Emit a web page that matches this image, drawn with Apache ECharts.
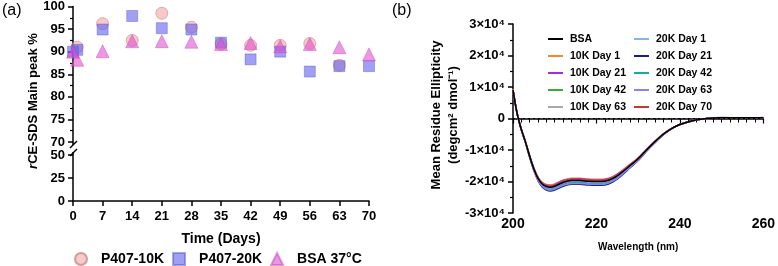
<!DOCTYPE html>
<html>
<head>
<meta charset="utf-8">
<script src="https://cdn.jsdelivr.net/npm/echarts@6/dist/echarts.min.js"></script>
<style>
  html, body { margin: 0; padding: 0; background: #fff; }
  #chart { width: 778px; height: 266px; }
</style>
</head>
<body>
<div id="chart"></div>
<script>
// panel (a): rCE-SDS main peak over time
var days10K = [1, 7, 14, 21, 28, 35, 42, 49, 56, 63];
var peak10K = [91.0, 96.2, 92.5, 98.5, 95.4, 91.7, 91.4, 91.4, 91.8, 87.0];
var days20K = [0, 1, 7, 14, 21, 28, 35, 42, 49, 56, 63, 70];
var peak20K = [90.0, 90.4, 94.9, 97.9, 95.2, 94.9, 92.0, 88.3, 90.0, 85.6, 86.8, 86.8];
var daysBSA = [0, 1, 7, 14, 21, 28, 35, 42, 49, 56, 63, 70];
var peakBSA = [90.0, 88.2, 90.1, 92.3, 92.3, 92.2, 91.7, 91.9, 91.2, 91.7, 91.0, 89.4];

// panel (b): CD spectra
var wavelengths = [200, 201, 202, 203, 204, 205, 206, 207, 208, 209, 210, 212, 214, 216, 218, 220, 222, 224, 226, 228, 230, 232, 234, 236, 238, 240, 243, 246, 250, 255, 260];
var cdBSA   = [9000, 1500, -3500, -7500, -12000, -16000, -19000, -20800, -21600, -21800, -21500, -20300, -19700, -19700, -19900, -20000, -19900, -19000, -17200, -15000, -12800, -10000, -7400, -5000, -3200, -1900, -700, -100, 200, 250, 250];
var cd10K1  = [9300, 1500, -3430, -7360, -11790, -15685, -18580, -20240, -20935, -21100, -20800, -19600, -19000, -19000, -19200, -19300, -19200, -18370, -16640, -14580, -12485, -9755, -7225, -4895, -3165, -1900, -700, -100, 200, 250, 250];
var cd10K21 = [9000, 1500, -3450, -7400, -11850, -15775, -18700, -20400, -21125, -21300, -21000, -19700, -19200, -19100, -19400, -19600, -19400, -18550, -16800, -14700, -12575, -9825, -7275, -4925, -3175, -1900, -700, -50, 300, 200, 300];
var cd10K42 = [9000, 1500, -3550, -7600, -12150, -16225, -19300, -21200, -22075, -22300, -22000, -20800, -20200, -20200, -20400, -20500, -20400, -19450, -17600, -15300, -13025, -10175, -7525, -5075, -3225, -1900, -700, -100, 200, 250, 250];
var cd10K63 = [9000, 1500, -3480, -7460, -11940, -15910, -18880, -20640, -21410, -21600, -21300, -20100, -19500, -19500, -19700, -19800, -19700, -18820, -17040, -14880, -12710, -9930, -7350, -4970, -3190, -1900, -700, -100, 200, 250, 250];
var cd20K1  = [9000, 1500, -3530, -7560, -12090, -16135, -19180, -21040, -21885, -22100, -21800, -20600, -20000, -20000, -20200, -20300, -20200, -19270, -17440, -15180, -12935, -10105, -7445, -5045, -3215, -1900, -700, -100, 200, 250, 250];
var cd20K21 = [9000, 1500, -3620, -7740, -12360, -16540, -19720, -21760, -22740, -23000, -22700, -21500, -20900, -20900, -21100, -21200, -21100, -20080, -18160, -15720, -13340, -10420, -7700, -5180, -3260, -1900, -700, -100, 200, 250, 250];
var cd20K42 = [9000, 1500, -3570, -7640, -12210, -16315, -19420, -21360, -22265, -22500, -22200, -21000, -20400, -20400, -20600, -20700, -20600, -19630, -17760, -15420, -13115, -10245, -7575, -5105, -3235, -1900, -700, -100, 200, 250, 250];
var cd20K63 = [9000, 1500, -3590, -7680, -12270, -16405, -19540, -21520, -22455, -22700, -22400, -21200, -20600, -20600, -20800, -20900, -20800, -19810, -17920, -15540, -13205, -10315, -7535, -5135, -3245, -1900, -700, -100, 200, 250, 250];
var cd20K70 = [9000, 1500, -3470, -7440, -11910, -15865, -18820, -20560, -21315, -21500, -21200, -20000, -19400, -19400, -19600, -19700, -19600, -18730, -16960, -14820, -12665, -9925, -7355, -4955, -3185, -1900, -700, -100, 200, 250, 250];

var cdNames = ['BSA', '10K Day 1', '10K Day 21', '10K Day 42', '10K Day 63', '20K Day 1', '20K Day 21', '20K Day 42', '20K Day 63', '20K Day 70'];
var cdColors = ['#000000', '#f5882a', '#a42be8', '#3daa3d', '#a8a8a8', '#7ab8f0', '#1c1c8e', '#1ea5a5', '#8b84e6', '#c23b3b'];
var cdValues = [cdBSA, cd10K1, cd10K21, cd10K42, cd10K63, cd20K1, cd20K21, cd20K42, cd20K63, cd20K70];

var FONT = '"Liberation Sans", Arial, sans-serif';

function pairs(xs, ys) {
  return xs.map(function (x, i) { return [x, ys[i]]; });
}

var axisLine = { show: true, lineStyle: { color: '#000', width: 1.5 } };
var tick = { show: true, inside: false, length: 5, lineStyle: { color: '#000', width: 1.5 } };
var boldLabel = function (size, margin) {
  return { color: '#000', fontFamily: FONT, fontWeight: 'bold', fontSize: size, margin: margin };
};

var scatterSeries = [
  { name: 'P407-10K', symbol: 'circle', size: 12, color: 'rgba(244,170,170,0.8)', border: '#c98a8a', xs: days10K, ys: peak10K },
  { name: 'P407-20K', symbol: 'rect', size: 11, color: 'rgba(95,95,240,0.75)', border: 'rgba(80,80,200,0.6)', xs: days20K, ys: peak20K },
  { name: 'BSA 37°C', symbol: 'triangle', size: 13, color: 'rgba(225,80,210,0.75)', border: 'rgba(190,60,180,0.6)', xs: daysBSA, ys: peakBSA }
].map(function (s) {
  return {
    name: s.name,
    type: 'scatter',
    xAxisIndex: 0,
    yAxisIndex: 0,
    symbol: s.symbol,
    symbolSize: s.size,
    clip: false,
    itemStyle: { color: s.color, borderColor: s.border, borderWidth: 0.8 },
    data: pairs(s.xs, s.ys)
  };
});

var lineSeries = cdNames.map(function (name, i) {
  var series = {
    name: name,
    type: 'line',
    xAxisIndex: 2,
    yAxisIndex: 2,
    showSymbol: false,
    smooth: 0.3,
    z: name === 'BSA' ? 4 : 3,
    color: cdColors[i],
    lineStyle: { width: 1.5, color: cdColors[i] },
    data: pairs(wavelengths, cdValues[i])
  };
  if (name === 'BSA') {
    series.markLine = {
      silent: true,
      symbol: 'none',
      label: { show: false },
      lineStyle: { color: '#000', type: [2, 3], width: 1 },
      data: [{ yAxis: 0 }]
    };
  }
  return series;
});

var cdLegendText = { color: '#000', fontFamily: FONT, fontWeight: 'bold', fontSize: 10.5, lineHeight: 12, padding: [0, 0, 0, 2] };

var chart = echarts.init(document.getElementById('chart'), null, { renderer: 'canvas' });
chart.setOption({
  backgroundColor: '#fff',
  animation: false,
  textStyle: { fontFamily: FONT },
  grid: [
    { left: 73, top: 5, width: 296, height: 137 },
    { left: 73, top: 155, width: 296, height: 46 },
    { left: 513, top: 24, width: 254, height: 189 }
  ],
  xAxis: [
    { gridIndex: 0, type: 'value', min: 0, max: 70, show: false },
    {
      gridIndex: 1, type: 'value', min: 0, max: 70, interval: 7,
      axisLine: axisLine, axisTick: tick, splitLine: { show: false },
      axisLabel: boldLabel(13, 9),
      name: 'Time (Days)', nameLocation: 'middle', nameGap: 31,
      nameTextStyle: { color: '#000', fontFamily: FONT, fontWeight: 'bold', fontSize: 14 }
    },
    {
      gridIndex: 2, type: 'value', min: 200, max: 260, interval: 20,
      axisLine: axisLine, axisTick: { show: true, length: 5, lineStyle: { color: '#000', width: 1.2 } },
      minorTick: { show: true, splitNumber: 10, length: 4, lineStyle: { color: '#000', width: 1 } },
      splitLine: { show: false },
      axisLabel: boldLabel(14, 4),
      name: 'Wavelength (nm)', nameLocation: 'middle', nameGap: 29,
      nameTextStyle: { color: '#000', fontFamily: FONT, fontWeight: 'bold', fontSize: 10 }
    }
  ],
  yAxis: [
    {
      gridIndex: 0, type: 'value', min: 70, max: 100, interval: 5,
      axisLine: axisLine, axisTick: tick, splitLine: { show: false },
      minorTick: { show: true, splitNumber: 2, length: 3, lineStyle: { color: '#000', width: 1.2 } },
      axisLabel: boldLabel(13, 8)
    },
    {
      gridIndex: 1, type: 'value', min: 0, max: 50, interval: 25,
      axisLine: axisLine, axisTick: tick, splitLine: { show: false },
      axisLabel: boldLabel(13, 8)
    },
    {
      gridIndex: 2, type: 'value', min: -30000, max: 30000, interval: 10000,
      axisLine: axisLine, axisTick: tick, splitLine: { show: false },
      minorTick: { show: true, splitNumber: 2, length: 3, lineStyle: { color: '#000', width: 1.2 } },
      axisLabel: Object.assign(boldLabel(13, 8), {
        formatter: function (v) { return v === 0 ? '0' : (v / 10000) + '×10⁴'; }
      })
    }
  ],
  legend: [
    {
      data: [
        { name: 'P407-10K', icon: 'circle' },
        { name: 'P407-20K', icon: 'rect' },
        { name: 'BSA 37°C', icon: 'triangle' }
      ],
      left: 74, top: 252, padding: 0, itemWidth: 12, itemHeight: 12, itemGap: 8,
      selectedMode: false,
      textStyle: { color: '#000', fontFamily: FONT, fontWeight: 'bold', fontSize: 14, padding: [0, 0, 0, 9] }
    },
    {
      data: cdNames.slice(0, 5),
      orient: 'vertical', left: 548, top: 33, padding: 0, itemWidth: 15, itemHeight: 2, itemGap: 5,
      icon: 'rect', selectedMode: false,
      textStyle: cdLegendText
    },
    {
      data: cdNames.slice(5),
      orient: 'vertical', left: 634, top: 33, padding: 0, itemWidth: 15, itemHeight: 2, itemGap: 5,
      icon: 'rect', selectedMode: false,
      textStyle: cdLegendText
    }
  ],
  graphic: [
    { type: 'text', left: 2, top: 3, style: { text: '(a)', font: '16px ' + FONT, fill: '#000' } },
    { type: 'text', left: 392, top: 3, style: { text: '(b)', font: '16px ' + FONT, fill: '#000' } },
    {
      type: 'text', x: 33, y: 101, rotation: Math.PI / 2,
      style: {
        text: '{i|r}CE-SDS Main peak %', align: 'center', verticalAlign: 'middle',
        font: 'bold 13px ' + FONT, fill: '#000',
        rich: { i: { fontStyle: 'italic', fontWeight: 'bold', fontSize: 13, fontFamily: FONT } }
      }
    },
    {
      type: 'text', x: 445, y: 115, rotation: Math.PI / 2,
      style: {
        text: 'Mean Residue Ellipticity\n(degcm² dmol⁻¹)', align: 'center', verticalAlign: 'middle',
        font: 'bold 13px ' + FONT, lineHeight: 17, fill: '#000'
      }
    },
    // axis break marks
    { type: 'line', shape: { x1: 73, y1: 142, x2: 73, y2: 145 }, style: { stroke: '#000', lineWidth: 1.5 } },
    { type: 'line', shape: { x1: 70, y1: 148, x2: 77, y2: 141 }, style: { stroke: '#000', lineWidth: 1.5 } },
    { type: 'line', shape: { x1: 70, y1: 156, x2: 77, y2: 149 }, style: { stroke: '#000', lineWidth: 1.5 } },
    { type: 'line', shape: { x1: 73, y1: 152, x2: 73, y2: 155 }, style: { stroke: '#000', lineWidth: 1.5 } }
  ],
  series: scatterSeries.concat(lineSeries)
});
</script>
</body>
</html>
